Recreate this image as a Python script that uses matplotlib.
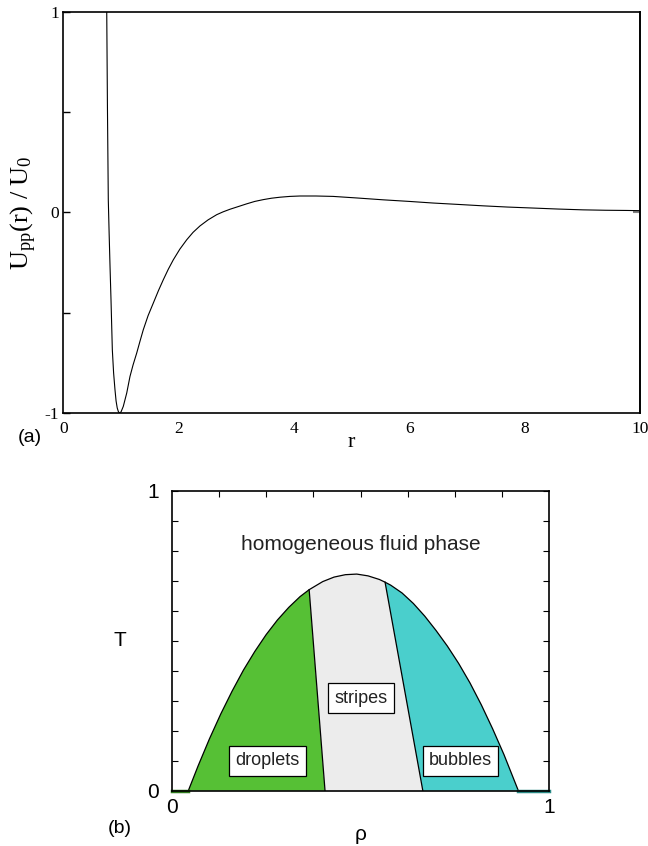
import numpy as np
import matplotlib.pyplot as plt

plt.rcParams["mathtext.fontset"] = "custom"
plt.rcParams["mathtext.rm"] = "Liberation Serif"
plt.rcParams["mathtext.it"] = "Liberation Serif:italic"

# (a) pair potential
r = [0.753, 0.765, 0.780, 0.795, 0.810, 0.827, 0.850, 0.872, 0.896, 0.915,
     0.935, 0.955, 0.972, 1.000, 1.040, 1.100, 1.156, 1.210, 1.273, 1.330,
     1.387, 1.470, 1.561, 1.650, 1.734, 1.820, 1.907, 2.020, 2.140, 2.250,
     2.370, 2.510, 2.660, 2.770, 2.890, 3.030, 3.180, 3.320, 3.468, 3.610,
     3.758, 3.930, 4.105, 4.380, 4.677, 5.100, 5.544, 6.000, 6.411, 6.850,
     7.278, 7.700, 8.145, 8.580, 9.012, 9.400, 9.770, 10.0]
u = [1.000, 0.530, 0.062, -0.110, -0.269, -0.436, -0.685, -0.800, -0.884, -0.940,
     -0.975, -0.993, -1.000, -0.995, -0.967, -0.900, -0.818, -0.760, -0.701, -0.642,
     -0.585, -0.515, -0.452, -0.390, -0.336, -0.284, -0.237, -0.184, -0.137, -0.100,
     -0.068, -0.038, -0.012, 0.002, 0.015, 0.028, 0.042, 0.054, 0.063, 0.070,
     0.075, 0.079, 0.081, 0.081, 0.079, 0.071, 0.062, 0.054, 0.046, 0.039,
     0.032, 0.026, 0.021, 0.016, 0.012, 0.010, 0.009, 0.008]

# (b) phase diagram: envelope of the modulated phases
dome_rho = [0.044, 0.07, 0.10, 0.13, 0.16, 0.19, 0.22, 0.25, 0.28, 0.31,
            0.34, 0.364, 0.40, 0.43, 0.46, 0.49, 0.52, 0.55, 0.565, 0.58,
            0.61, 0.64, 0.67, 0.70, 0.73, 0.76, 0.79, 0.82, 0.85, 0.88, 0.918]
dome_T = [0.0, 0.083, 0.173, 0.256, 0.332, 0.402, 0.464, 0.520, 0.569, 0.611,
          0.647, 0.670, 0.697, 0.712, 0.720, 0.722, 0.716, 0.704, 0.695, 0.685,
          0.659, 0.624, 0.582, 0.534, 0.482, 0.424, 0.359, 0.286, 0.206, 0.120, 0.0]
# droplets|stripes and stripes|bubbles boundaries (bottom, top)
b1_rho = [0.406, 0.364]
b1_T = [0.0, 0.670]
b2_rho = [0.665, 0.565]
b2_T = [0.0, 0.695]

labels = ["droplets", "stripes", "bubbles"]
label_rho = [0.254, 0.501, 0.765]
label_T = [0.099, 0.308, 0.099]

green = "#56c035"
grey = "#ececec"
teal = "#4acfcc"

fig = plt.figure(figsize=(6.48, 8.46), dpi=100)

# ---- panel (a)
ax = fig.add_axes([0.0977, 0.5118, 0.89, 0.4746])
ax.plot(r, u, color="black", lw=0.8)
ax.set_xlim(0, 10)
ax.set_ylim(-1, 1)
ax.set_xticks([0, 2, 4, 6, 8, 10])
ax.set_yticks([-1, -0.5, 0, 0.5, 1])
ax.set_yticklabels(["-1", "", "0", "", "1"])
ax.tick_params(axis="y", direction="in", length=5, width=1, pad=3, labelsize=12.5)
ax.tick_params(axis="x", direction="in", length=0, pad=6, labelsize=12.5)
for lab in ax.get_xticklabels() + ax.get_yticklabels():
    lab.set_family("Liberation Serif")
for s in ax.spines.values():
    s.set_linewidth(1.2)
sec = ax.secondary_yaxis("right")
sec.set_yticks([0])
sec.tick_params(direction="in", length=5, width=1.5, color="grey", labelright=False)
sec.spines["right"].set_linewidth(1.2)
ax.set_xlabel("r", family="Liberation Serif", fontsize=16, labelpad=-3)
ax.set_ylabel(r"$\mathrm{U_{pp}(r)\ /\ U_0}$", fontsize=19, labelpad=4)
fig.text(30 / 648, 1 - 437 / 846, "(a)", ha="center", va="center",
         family="Liberation Sans", fontsize=14)

# ---- panel (b)
bx = fig.add_axes([0.265, 0.0654, 0.5827, 0.3546])
sel1 = [i for i, x in enumerate(dome_rho) if x <= b1_rho[1]]
sel2 = [i for i, x in enumerate(dome_rho) if b1_rho[1] <= x <= b2_rho[1]]
sel3 = [i for i, x in enumerate(dome_rho) if x >= b2_rho[1]]

px = [dome_rho[i] for i in sel1] + [b1_rho[0]]
py = [dome_T[i] for i in sel1] + [b1_T[0]]
bx.fill(px, py, color=green, lw=0)
px = [b1_rho[0]] + [dome_rho[i] for i in sel2] + [b2_rho[0]]
py = [b1_T[0]] + [dome_T[i] for i in sel2] + [b2_T[0]]
bx.fill(px, py, color=grey, lw=0)
px = [b2_rho[0]] + [dome_rho[i] for i in sel3]
py = [b2_T[0]] + [dome_T[i] for i in sel3]
bx.fill(px, py, color=teal, lw=0)

bx.plot(dome_rho, dome_T, color="black", lw=0.9)
bx.plot(b1_rho, b1_T, color="black", lw=0.9)
bx.plot(b2_rho, b2_T, color="black", lw=0.9)
bx.plot([0, dome_rho[0]], [0, 0], color="#2e7a1c", lw=2.5, clip_on=False)
bx.plot([dome_rho[-1], 1], [0, 0], color="#2a8a86", lw=2.5, clip_on=False)

for t, x, y in zip(labels, label_rho, label_T):
    bx.text(x, y, t, ha="center", va="center", family="Liberation Sans",
            fontsize=13, color="#222222",
            bbox=dict(boxstyle="square,pad=0.35", fc="white", ec="black", lw=0.9))
bx.text(0.5, 0.82, "homogeneous fluid phase", ha="center", va="center",
        family="Liberation Sans", fontsize=15, color="#222222")

bx.set_xlim(0, 1)
bx.set_ylim(0, 1)
bx.set_xticks([0, 1])
bx.set_yticks([0, 1])
bx.set_xticks(np.arange(0, 1.001, 0.125), minor=True)
bx.set_yticks(np.arange(0, 1.001, 0.1), minor=True)
bx.tick_params(which="both", direction="in", labelsize=15, top=True, right=True,
               bottom=False)
bx.tick_params(axis="x", which="major", length=0, pad=5)
bx.tick_params(axis="y", which="major", length=4, pad=9)
bx.tick_params(which="minor", length=4, width=0.8)
bx.tick_params(axis="x", which="minor", bottom=False)
for lab in bx.get_xticklabels() + bx.get_yticklabels():
    lab.set_family("Liberation Sans")
for s in bx.spines.values():
    s.set_linewidth(1.2)
bx.set_xlabel("ρ", family="Liberation Sans", fontsize=15, labelpad=6)
bx.set_ylabel("T", family="Liberation Sans", fontsize=15, labelpad=20, rotation=0,
              va="center")
fig.text(120 / 648, 1 - 828 / 846, "(b)", ha="center", va="center",
         family="Liberation Sans", fontsize=14)

fig.savefig("out.png", dpi=100)
